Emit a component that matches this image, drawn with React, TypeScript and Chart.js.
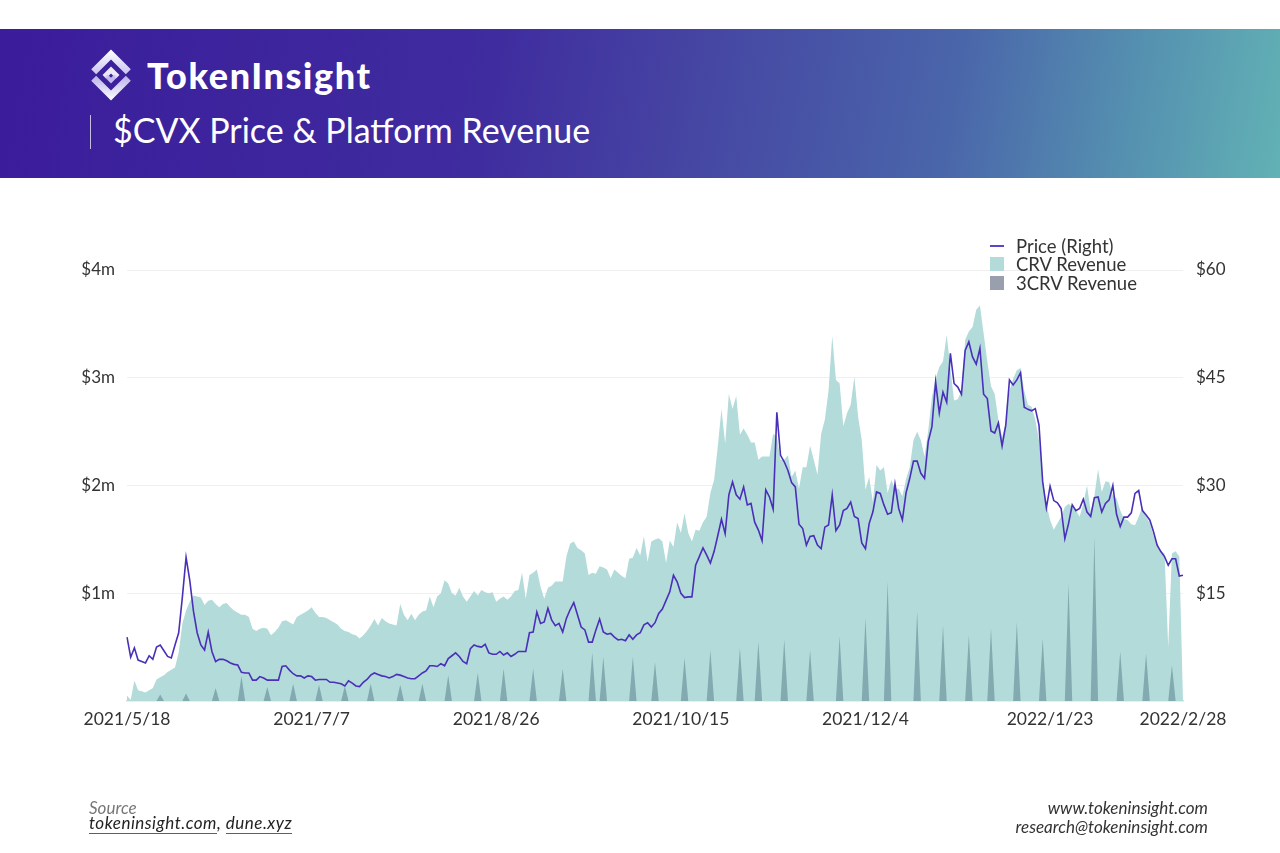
import React, { useEffect, useRef } from "react";
import { Chart, registerables } from "chart.js";

Chart.register(...registerables);

// ---------- DATA ----------
const startDate = [2021, 5, 18];
const tickLabels = ["2021/5/18", "2021/7/7", "2021/8/26", "2021/10/15", "2021/12/4", "2022/1/23", "2022/2/28"];

// CVX price (USD), daily from 2021/5/18 to 2022/2/28
const priceRight = [
  8.9, 6.1, 7.4, 5.7, 5.5, 5.3, 6.3, 5.8, 7.5, 7.8,
  7.0, 6.2, 6.0, 7.8, 9.5, 14.5, 20.0, 16.8, 12.5, 9.5,
  7.8, 7.1, 9.6, 6.9, 5.5, 5.8, 5.8, 5.6, 5.3, 5.1,
  5.0, 4.0, 3.9, 3.9, 2.9, 2.9, 3.4, 3.2, 2.9, 2.9,
  2.9, 2.9, 4.8, 4.9, 4.3, 3.8, 3.5, 3.5, 3.2, 3.5,
  3.4, 2.9, 3.0, 3.0, 3.0, 2.6, 2.6, 2.5, 2.4, 2.1,
  2.8, 2.5, 2.1, 2.0, 2.6, 3.0, 3.6, 3.9, 3.7, 3.5,
  3.4, 3.2, 3.4, 3.7, 3.6, 3.4, 3.2, 3.1, 3.1, 3.5,
  3.9, 4.2, 4.9, 4.9, 4.8, 5.2, 4.9, 5.9, 6.3, 6.7,
  6.2, 5.5, 5.2, 7.3, 7.8, 7.6, 7.5, 7.9, 6.7, 6.5,
  6.5, 6.9, 6.4, 6.7, 6.2, 6.5, 6.9, 6.9, 6.9, 9.5,
  9.6, 12.4, 10.8, 11.0, 12.9, 11.3, 10.5, 10.8, 9.6, 11.5,
  12.7, 13.7, 12.0, 10.3, 9.9, 8.2, 8.2, 9.9, 11.4, 9.6,
  9.3, 9.4, 8.9, 8.5, 8.6, 8.4, 9.2, 8.6, 9.2, 9.5,
  10.6, 10.9, 10.3, 10.9, 12.2, 12.8, 14.0, 15.2, 17.5, 16.6,
  15.0, 14.4, 14.5, 14.5, 18.9, 20.1, 21.3, 20.3, 19.2, 20.8,
  23.0, 25.3, 23.3, 28.7, 30.5, 28.7, 28.1, 29.8, 27.3, 27.5,
  24.9, 23.8, 22.3, 29.4, 28.4, 26.7, 40.2, 34.2, 33.3, 32.1,
  30.4, 29.8, 24.6, 24.0, 21.7, 22.9, 23.0, 21.7, 21.2, 24.2,
  24.5, 28.7, 23.7, 24.5, 26.5, 26.8, 27.7, 25.7, 25.4, 22.0,
  21.2, 24.7, 26.3, 29.1, 28.9, 27.3, 26.0, 26.2, 30.2, 26.8,
  25.2, 29.0, 31.0, 33.4, 33.4, 31.7, 31.0, 36.1, 38.2, 44.4,
  40.1, 43.0, 41.6, 48.4, 44.2, 43.7, 42.7, 48.8, 50.0, 47.9,
  46.9, 49.1, 42.7, 42.1, 37.6, 37.3, 38.7, 35.5, 38.4, 44.7,
  44.0, 44.7, 45.7, 40.9, 40.6, 40.4, 40.7, 38.4, 30.5, 26.9,
  29.9, 27.9, 27.6, 26.8, 22.6, 24.7, 27.3, 26.5, 26.8, 28.1,
  26.3, 25.7, 28.3, 28.4, 26.3, 27.5, 28.0, 30.0, 26.0, 24.3,
  25.6, 25.6, 26.2, 28.9, 29.3, 26.5, 25.9, 25.2, 23.6, 21.7,
  20.8, 20.1, 18.9, 19.8, 19.8, 17.4, 17.5,
];

// CRV revenue ($m), daily
const crvRevenue = [
  0.05, 0.01, 0.19, 0.10, 0.09, 0.08, 0.10, 0.12, 0.20, 0.22,
  0.24, 0.27, 0.29, 0.31, 0.45, 0.72, 0.84, 0.92, 0.98, 0.97,
  0.96, 0.89, 0.93, 0.94, 0.90, 0.87, 0.90, 0.91, 0.87, 0.84,
  0.82, 0.80, 0.80, 0.78, 0.67, 0.65, 0.67, 0.68, 0.67, 0.61,
  0.64, 0.68, 0.74, 0.75, 0.73, 0.71, 0.78, 0.80, 0.82, 0.84,
  0.87, 0.82, 0.78, 0.78, 0.77, 0.75, 0.73, 0.71, 0.67, 0.65,
  0.64, 0.62, 0.61, 0.58, 0.61, 0.65, 0.70, 0.76, 0.70, 0.77,
  0.74, 0.72, 0.71, 0.70, 0.90, 0.80, 0.75, 0.81, 0.75, 0.80,
  0.83, 0.84, 0.97, 0.87, 0.97, 1.00, 1.12, 1.09, 1.00, 0.98,
  1.05, 0.97, 0.92, 0.97, 1.02, 0.98, 1.03, 1.01, 1.00, 1.01,
  0.92, 0.95, 0.97, 0.94, 0.97, 1.02, 1.03, 1.19, 0.95, 1.17,
  1.19, 1.22, 1.06, 0.95, 1.05, 1.07, 1.11, 1.11, 1.11, 1.34,
  1.46, 1.48, 1.42, 1.40, 1.37, 1.17, 1.19, 1.18, 1.25, 1.24,
  1.22, 1.14, 1.22, 1.19, 1.16, 1.14, 1.32, 1.33, 1.42, 1.35,
  1.53, 1.29, 1.48, 1.50, 1.51, 1.48, 1.28, 1.49, 1.43, 1.66,
  1.56, 1.74, 1.56, 1.48, 1.59, 1.58, 1.66, 1.71, 1.93, 2.05,
  2.36, 2.71, 2.39, 2.85, 2.71, 2.83, 2.47, 2.53, 2.47, 2.40,
  2.40, 2.24, 2.27, 2.27, 2.27, 2.48, 2.45, 2.24, 2.24, 2.28,
  2.08, 2.14, 1.97, 2.17, 2.17, 2.37, 2.24, 2.10, 2.48, 2.61,
  2.88, 3.39, 2.98, 2.95, 2.55, 2.67, 2.75, 3.01, 2.64, 2.42,
  1.96, 2.08, 1.85, 2.19, 2.14, 2.17, 1.93, 2.05, 1.97, 1.97,
  1.90, 2.06, 2.17, 2.42, 2.50, 2.42, 2.27, 2.51, 2.82, 2.99,
  3.10, 3.15, 3.40, 3.09, 2.79, 2.80, 2.88, 3.35, 3.43, 3.47,
  3.63, 3.67, 3.41, 3.15, 2.92, 2.85, 2.61, 2.45, 2.58, 2.88,
  2.99, 3.07, 3.09, 2.88, 2.75, 2.73, 2.61, 2.42, 2.08, 1.83,
  1.68, 1.59, 1.65, 1.71, 1.80, 1.83, 1.80, 1.77, 1.71, 1.83,
  2.00, 1.76, 1.90, 2.15, 1.94, 2.04, 2.03, 1.91, 1.88, 1.77,
  1.69, 1.68, 1.64, 1.63, 1.71, 1.80, 1.71, 1.65, 1.54, 1.45,
  1.39, 1.37, 0.50, 1.37, 1.39, 1.34, 0.0,
];

// 3CRV revenue ($m): distribution days (day index from start) and amounts
const threeCrvDays = [
  9, 16, 24, 31, 38, 45, 52, 59, 66, 74, 80, 87, 95, 102, 110, 118, 126, 129, 137, 143,
  151, 158, 166, 171, 178, 185, 193, 200, 206, 214, 221, 228, 234, 241, 248, 255, 262, 269, 276, 283,
];
const threeCrvValues = [
  0.06, 0.07, 0.12, 0.23, 0.13, 0.16, 0.15, 0.14, 0.16, 0.15, 0.16, 0.24, 0.26, 0.30, 0.30, 0.30, 0.45, 0.41, 0.41, 0.36,
  0.40, 0.47, 0.49, 0.55, 0.57, 0.47, 0.60, 0.77, 1.11, 0.83, 0.70, 0.61, 0.67, 0.73, 0.58, 1.09, 1.52, 0.46, 0.44, 0.33,
];

// ---------- BUILD ----------
const dayLabels: string[] = crvRevenue.map((_, i) => {
  const d = new Date(startDate[0], startDate[1] - 1, startDate[2] + i);
  return `${d.getFullYear()}/${d.getMonth() + 1}/${d.getDate()}`;
});
const threeCrvSeries: number[] = crvRevenue.map(() => 0);
threeCrvDays.forEach((d, k) => {
  threeCrvSeries[d] = threeCrvValues[k];
});

const FONT = "Lato, 'Noto Sans', sans-serif";

function Logo() {
  return (
    <svg width="54" height="54" viewBox="0 0 54 54" style={{ position: "absolute", left: 84, top: 19 }}>
      <defs>
        <linearGradient id="lg1" x1="0" y1="0" x2="1" y2="1">
          <stop offset="0" stopColor="#ffffff" />
          <stop offset="1" stopColor="#a99fe6" />
        </linearGradient>
        <linearGradient id="lg2" x1="1" y1="1" x2="0" y2="0">
          <stop offset="0" stopColor="#ffffff" />
          <stop offset="1" stopColor="#8f83da" />
        </linearGradient>
      </defs>
      <g transform="translate(27 27) rotate(45)">
        <path d="M -18 -18 L 10 -18 L 10 -11 L -11 -11 L -11 10 L -18 10 Z" fill="url(#lg1)" />
        <path d="M 18 18 L -10 18 L -10 11 L 11 11 L 11 -10 L 18 -10 Z" fill="url(#lg2)" />
        <path d="M -6 -6 L 6 -6 L 6 -1 L -1 -1 L -1 6 L -6 6 Z" fill="#ffffff" opacity="0.9" />
        <path d="M 6 6 L -3 6 L -3 2 L 2 2 L 2 -3 L 6 -3 Z" fill="#cfc8f4" opacity="0.9" />
      </g>
    </svg>
  );
}

export default function App() {
  const canvasRef = useRef<HTMLCanvasElement | null>(null);

  useEffect(() => {
    document.body.style.margin = "0";
    const canvas = canvasRef.current;
    if (!canvas) return;
    const chart = new Chart(canvas, {
      type: "line",
      data: {
        labels: dayLabels,
        datasets: [
          {
            label: "Price (Right)",
            data: priceRight,
            yAxisID: "y1",
            borderColor: "#4a2fb8",
            borderWidth: 1.6,
            pointRadius: 0,
            fill: false,
            tension: 0,
            order: 0,
          },
          {
            label: "3CRV Revenue",
            data: threeCrvSeries,
            yAxisID: "y",
            borderWidth: 0,
            borderColor: "rgba(0,0,0,0)",
            backgroundColor: "rgba(70,110,125,0.45)",
            pointRadius: 0,
            fill: "origin",
            tension: 0,
            order: 1,
          },
          {
            label: "CRV Revenue",
            data: crvRevenue,
            yAxisID: "y",
            borderWidth: 0,
            borderColor: "rgba(0,0,0,0)",
            backgroundColor: "#b2dbda",
            pointRadius: 0,
            fill: "origin",
            tension: 0,
            order: 2,
          },
        ],
      },
      options: {
        responsive: false,
        animation: false,
        layout: { padding: { top: 270, bottom: 112, left: 0, right: 0 } },
        plugins: { legend: { display: false }, tooltip: { enabled: false } },
        scales: {
          x: {
            type: "category",
            grid: { display: false, drawTicks: false },
            border: { display: true, color: "#dcd8f0", width: 1.5 },
            ticks: {
              autoSkip: false,
              maxRotation: 0,
              minRotation: 0,
              padding: 8,
              color: "#333",
              font: { family: FONT, size: 17.5 },
              callback: function (value: any) {
                const lab = dayLabels[value as number];
                return tickLabels.includes(lab) ? lab : null;
              },
            },
            afterFit: (s: any) => {
              s.height = 40;
            },
          },
          y: {
            position: "left",
            min: 0,
            max: 4,
            grid: {
              drawTicks: false,
              color: (ctx: any) => (ctx.tick && ctx.tick.value === 0 ? "rgba(0,0,0,0)" : "#f0f0f0"),
            },
            border: { display: false },
            ticks: {
              stepSize: 1,
              padding: 12,
              color: "#333",
              font: { family: FONT, size: 17 },
              callback: (v: any) => (v === 0 ? "" : `$${v}m`),
            },
            afterFit: (s: any) => {
              s.width = 127;
            },
          },
          y1: {
            position: "right",
            min: 0,
            max: 60,
            grid: { display: false, drawTicks: false },
            border: { display: false },
            ticks: {
              stepSize: 15,
              padding: 13,
              color: "#333",
              font: { family: FONT, size: 17 },
              callback: (v: any) => (v === 0 ? "" : `$${v}`),
            },
            afterFit: (s: any) => {
              s.width = 97;
            },
          },
        },
      },
    } as any);
    return () => chart.destroy();
  }, []);

  const legendItem = (top: number, swatch: React.ReactNode, text: string) => (
    <div style={{ position: "absolute", left: 990, top, height: 19, display: "flex", alignItems: "center" }}>
      <div style={{ width: 14, display: "flex", justifyContent: "center" }}>{swatch}</div>
      <span style={{ marginLeft: 12, fontFamily: FONT, fontSize: 18.5, color: "#333", whiteSpace: "nowrap" }}>{text}</span>
    </div>
  );

  return (
    <div style={{ position: "absolute", left: 0, top: 0, width: 1280, height: 853, background: "#fff", overflow: "hidden" }}>
      <canvas ref={canvasRef} width={1280} height={853} style={{ position: "absolute", left: 0, top: 0, width: 1280, height: 853 }} />

      {/* header band */}
      <div
        style={{
          position: "absolute",
          left: 0,
          top: 29,
          width: 1280,
          height: 149,
          background: "linear-gradient(100deg, #3b1c9b 0%, #3f2c9f 38%, #4542a2 52%, #4a66aa 74%, #5591b0 88%, #62b2b5 100%)",
        }}
      >
        <Logo />
        <div
          style={{
            position: "absolute",
            left: 147,
            top: 26,
            fontFamily: FONT,
            fontWeight: 900,
            fontSize: 36,
            color: "#fff",
            letterSpacing: 1.6,
            lineHeight: "40px",
            whiteSpace: "nowrap",
          }}
        >
          TokenInsight
        </div>
        <div style={{ position: "absolute", left: 90, top: 86, width: 1, height: 34, background: "rgba(255,255,255,0.7)" }} />
        <div
          style={{
            position: "absolute",
            left: 113,
            top: 81,
            fontFamily: FONT,
            fontSize: 34,
            color: "#fff",
            lineHeight: "40px",
            whiteSpace: "nowrap",
          }}
        >
          $CVX Price &amp; Platform Revenue
        </div>
      </div>

      {/* legend */}
      {legendItem(236, <div style={{ width: 14, height: 2, background: "#5b46c9" }} />, "Price (Right)")}
      {legendItem(254, <div style={{ width: 14, height: 14, background: "#b2dbda" }} />, "CRV Revenue")}
      {legendItem(273, <div style={{ width: 14, height: 14, background: "#9a9fae" }} />, "3CRV Revenue")}

      {/* footer */}
      <div style={{ position: "absolute", left: 89, top: 800, fontFamily: FONT, fontStyle: "italic", fontSize: 17, color: "#777", lineHeight: "16px" }}>
        Source
      </div>
      <div style={{ position: "absolute", left: 89, top: 815, fontFamily: FONT, fontStyle: "italic", fontSize: 17, color: "#222", lineHeight: "16px", whiteSpace: "nowrap", letterSpacing: 0.5 }}>
        <span style={{ borderBottom: "1.5px solid #3b5bdb" }}>tokeninsight.com</span>,{" "}
        <span style={{ borderBottom: "1.5px solid #3b5bdb" }}>dune.xyz</span>
      </div>
      <div
        style={{
          position: "absolute",
          right: 72,
          top: 798,
          fontFamily: FONT,
          fontStyle: "italic",
          fontSize: 17,
          color: "#333",
          lineHeight: "19px",
          textAlign: "right",
          whiteSpace: "nowrap",
        }}
      >
        www.tokeninsight.com
        <br />
        research@tokeninsight.com
      </div>
    </div>
  );
}
